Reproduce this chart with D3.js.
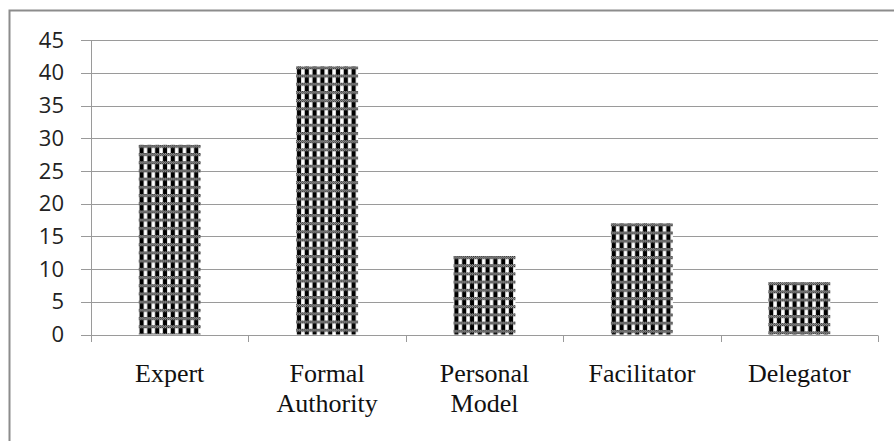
<!DOCTYPE html>
<html>
<head>
<meta charset="utf-8">
<script src="https://cdn.jsdelivr.net/npm/d3@7"></script>
<style>
  html, body { margin: 0; padding: 0; background: #fff; }
  svg { display: block; }
</style>
</head>
<body>
<svg id="chart" width="894" height="441"></svg>
<script>
const categories = ["Expert", "Formal Authority", "Personal Model", "Facilitator", "Delegator"];
const values = [29, 41, 12, 17, 8];
const yTicks = [0, 5, 10, 15, 20, 25, 30, 35, 40, 45];

const svg = d3.select("#chart");
const W = 894, H = 441;
const plot = { left: 91, right: 878, top: 40.2, bottom: 334.5 };

svg.append("rect")
  .attr("x", 9.5).attr("y", 10.5)
  .attr("width", W + 20).attr("height", H + 20)
  .attr("fill", "none").attr("stroke", "#8c8c8c").attr("stroke-width", 2);

const x = d3.scaleBand()
  .domain(categories)
  .range([plot.left, plot.right])
  .paddingInner(0.606)
  .paddingOuter(0.303);

const y = d3.scaleLinear()
  .domain([0, 45])
  .range([plot.bottom, plot.top]);

const defs = svg.append("defs");
const dots = defs.append("pattern")
  .attr("id", "dots").attr("patternUnits", "userSpaceOnUse")
  .attr("width", 2).attr("height", 2);
dots.append("rect").attr("width", 2).attr("height", 2).attr("fill", "#c0c0c0");
dots.append("rect").attr("width", 1).attr("height", 1).attr("fill", "#1a1a1a");
dots.append("rect").attr("x", 1).attr("y", 1).attr("width", 1).attr("height", 1).attr("fill", "#1a1a1a");

const PW = 7.8, PH = 8.2;
categories.forEach((c, i) => {
  const p = defs.append("pattern")
    .attr("id", "pat" + i)
    .attr("patternUnits", "userSpaceOnUse")
    .attr("x", x(c)).attr("y", y(values[i]))
    .attr("width", PW).attr("height", PH);
  p.append("rect").attr("width", PW).attr("height", PH).attr("fill", "#fff");
  p.append("rect").attr("x", 0.8).attr("y", 0).attr("width", 4.2).attr("height", PH).attr("fill", "#000");
  p.append("rect").attr("x", 0).attr("y", 0).attr("width", PW).attr("height", 3).attr("fill", "url(#dots)");
});

svg.append("g")
  .selectAll("line")
  .data(yTicks)
  .join("line")
  .attr("x1", plot.left - 10).attr("x2", plot.right)
  .attr("y1", d => Math.round(y(d)) + 0.5).attr("y2", d => Math.round(y(d)) + 0.5)
  .attr("stroke", "#9a9a9a").attr("stroke-width", 1);

const yAxis = d3.axisLeft(y).tickValues(yTicks).tickSize(0).tickPadding(27);
const gy = svg.append("g").attr("transform", `translate(${plot.left},0)`).call(yAxis);
gy.select(".domain").remove();
gy.attr("font-family", "Open Sans").attr("font-size", 22);
gy.selectAll("text").attr("fill", "#222");

svg.append("line")
  .attr("x1", plot.left + 0.5).attr("x2", plot.left + 0.5)
  .attr("y1", Math.round(y(45)) + 0.5).attr("y2", Math.round(y(0)) + 0.5)
  .attr("stroke", "#9a9a9a");

svg.append("g")
  .selectAll("rect")
  .data(categories)
  .join("rect")
  .attr("x", d => x(d))
  .attr("y", (d, i) => y(values[i]))
  .attr("width", x.bandwidth())
  .attr("height", (d, i) => y(0) - y(values[i]))
  .attr("fill", (d, i) => `url(#pat${i})`);

const bounds = categories.map(c => x(c) - (x.step() - x.bandwidth()) / 2).concat([plot.right]);
svg.append("line")
  .attr("x1", plot.left).attr("x2", plot.right)
  .attr("y1", Math.round(y(0)) + 0.5).attr("y2", Math.round(y(0)) + 0.5)
  .attr("stroke", "#9a9a9a");
svg.append("g").selectAll("line")
  .data(bounds)
  .join("line")
  .attr("x1", d => Math.round(d) + 0.5).attr("x2", d => Math.round(d) + 0.5)
  .attr("y1", Math.round(y(0)) + 0.5).attr("y2", Math.round(y(0)) + 7)
  .attr("stroke", "#9a9a9a");

const lab = svg.append("g")
  .attr("font-family", "Liberation Serif")
  .attr("font-size", 26)
  .selectAll("text")
  .data(categories)
  .join("text")
  .style("font-family", "Liberation Serif")
  .attr("x", d => x(d) + x.bandwidth() / 2)
  .attr("y", 382)
  .attr("text-anchor", "middle")
  .attr("fill", "#111");
lab.selectAll("tspan")
  .data(d => d.split(" "))
  .join("tspan")
  .attr("x", function() { return d3.select(this.parentNode).attr("x"); })
  .attr("dy", (d, i) => i === 0 ? 0 : 30)
  .text(d => d);
</script>
</body>
</html>
